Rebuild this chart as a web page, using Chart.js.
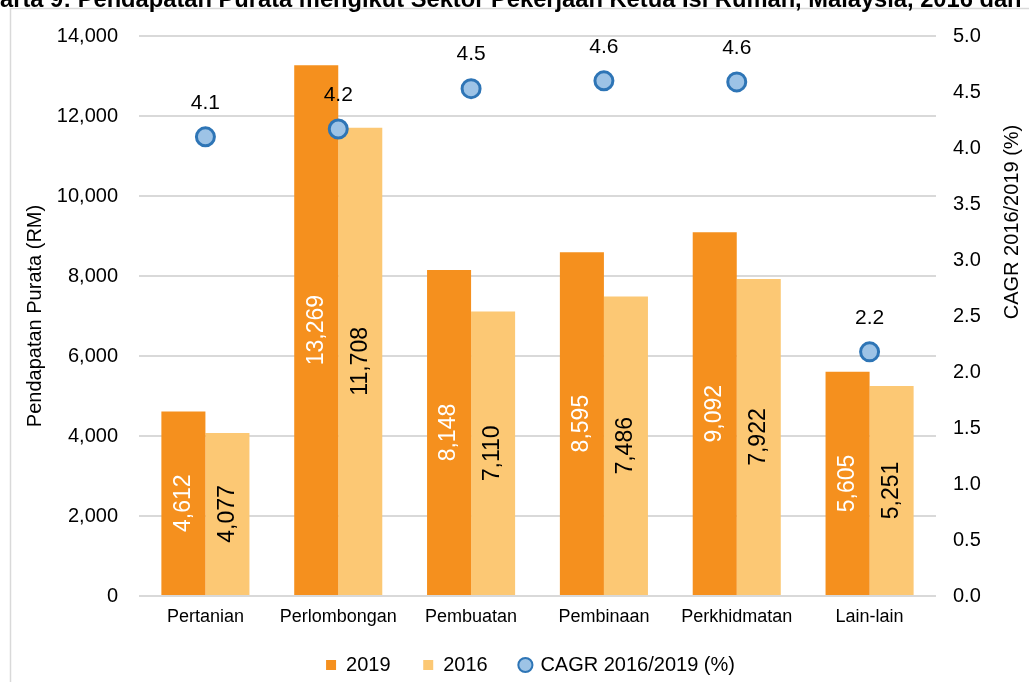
<!DOCTYPE html>
<html>
<head>
<meta charset="utf-8">
<script src="https://cdn.jsdelivr.net/npm/chart.js@4.4.0/dist/chart.umd.min.js"></script>
<style>
  html, body { margin: 0; padding: 0; background: #fff; overflow: hidden; }
  #wrap { width: 1029px; height: 682px; overflow: hidden; position: relative; }
  canvas { position: absolute; left: 0; top: 0; }
</style>
</head>
<body>
<div id="wrap"><canvas id="carta" width="1061" height="682"></canvas></div>
<script>
// data
const sektor = ['Pertanian', 'Perlombongan', 'Pembuatan', 'Pembinaan', 'Perkhidmatan', 'Lain-lain'];
const purata2019 = [4612, 13269, 8148, 8595, 9092, 5605];
const purata2016 = [4077, 11708, 7110, 7486, 7922, 5251];
const cagr = [4.1, 4.17, 4.53, 4.6, 4.59, 2.18];
const namaSiri = ['2019', '2016', 'CAGR 2016/2019 (%)'];
const tajuk = 'Carta 9: Pendapatan Purata mengikut Sektor Pekerjaan Ketua Isi Rumah, Malaysia, 2016 dan 2019';
const tajukKiri = 'Pendapatan Purata (RM)';
const tajukKanan = 'CAGR 2016/2019 (%)';

const FONT = '"Liberation Sans", Arial, sans-serif';
Chart.defaults.font.family = FONT;
Chart.defaults.color = '#000';

// frame, clipped title, right axis title and value labels
const hiasan = {
  id: 'hiasan',
  beforeDraw(chart) {
    const ctx = chart.ctx;
    ctx.save();
    ctx.strokeStyle = '#d9d9d9';
    ctx.lineWidth = 1.5;
    ctx.strokeRect(10.5, 8.5, 3000, 3000);
    ctx.font = 'bold 23.7px ' + FONT;
    ctx.fillStyle = '#000';
    ctx.textBaseline = 'alphabetic';
    ctx.fillText(tajuk, -ctx.measureText('C').width, 7);
    ctx.restore();
  },
  afterDatasetsDraw(chart) {
    const ctx = chart.ctx;
    ctx.save();
    ctx.textAlign = 'center';
    ctx.textBaseline = 'middle';
    // bar values, rotated
    [0, 1].forEach(di => {
      chart.getDatasetMeta(di).data.forEach((bar, i) => {
        const v = chart.data.datasets[di].data[i];
        ctx.save();
        ctx.translate(bar.x, (bar.y + bar.base) / 2);
        ctx.rotate(-Math.PI / 2);
        ctx.font = '23px ' + FONT;
        ctx.fillStyle = di === 0 ? '#fff' : '#000';
        ctx.fillText(v.toLocaleString('en-US'), 0, 0);
        ctx.restore();
      });
    });
    // CAGR values above points
    ctx.font = '21px ' + FONT;
    ctx.fillStyle = '#000';
    chart.getDatasetMeta(2).data.forEach((pt, i) => {
      ctx.fillText(cagr[i].toFixed(1), pt.x, pt.y - 34);
    });
    ctx.restore();
  },
  afterDraw(chart) {
    const ctx = chart.ctx;
    ctx.save();
    ctx.translate(1012, 222);
    ctx.rotate(-Math.PI / 2);
    ctx.font = '20px ' + FONT;
    ctx.fillStyle = '#000';
    ctx.textAlign = 'center';
    ctx.textBaseline = 'middle';
    ctx.fillText(tajukKanan, 0, 0);
    ctx.restore();
  }
};

new Chart(document.getElementById('carta'), {
  type: 'bar',
  data: {
    labels: sektor,
    datasets: [
      {
        label: namaSiri[0] + '   ',
        data: purata2019,
        backgroundColor: '#F5901E',
        borderWidth: 0,
        yAxisID: 'y',
        order: 1
      },
      {
        label: namaSiri[1] + '   ',
        data: purata2016,
        backgroundColor: '#FCC874',
        borderWidth: 0,
        yAxisID: 'y',
        order: 1
      },
      {
        type: 'line',
        label: namaSiri[2],
        data: cagr,
        showLine: false,
        pointRadius: 9,
        pointHoverRadius: 9,
        pointBorderWidth: 3,
        pointBackgroundColor: '#9DC3E6',
        pointBorderColor: '#2E75B6',
        backgroundColor: '#9DC3E6',
        borderColor: '#2E75B6',
        yAxisID: 'y1',
        order: 0
      }
    ]
  },
  options: {
    responsive: false,
    animation: false,
    layout: { padding: { top: 36, left: 0, right: 0, bottom: -3 } },
    datasets: {
      bar: { barPercentage: 1, categoryPercentage: 0.663 }
    },
    scales: {
      x: {
        grid: { display: false, drawTicks: false },
        border: { display: false },
        ticks: { font: { size: 18 }, color: '#000', padding: 10, maxRotation: 0, minRotation: 0 },
        afterFit(s) { s.height = 43; }
      },
      y: {
        position: 'left',
        min: 0,
        max: 14000,
        ticks: {
          stepSize: 2000,
          font: { size: 20 },
          color: '#000',
          padding: 21,
          callback: v => v.toLocaleString('en-US')
        },
        grid: { color: '#d9d9d9', lineWidth: 2, drawTicks: false },
        border: { display: false },
        title: {
          display: true,
          text: tajukKiri,
          font: { size: 20 },
          color: '#000',
          padding: { top: 23, bottom: 0 }
        },
        afterFit(s) { s.width = 139; }
      },
      y1: {
        position: 'right',
        min: 0,
        max: 5,
        ticks: {
          stepSize: 0.5,
          font: { size: 20 },
          color: '#000',
          padding: 17,
          callback: v => v.toFixed(1)
        },
        grid: { display: false, drawTicks: false },
        border: { display: false },
        afterFit(s) { s.width = 1061 - 936; }
      }
    },
    plugins: {
      legend: {
        position: 'bottom',
        labels: {
          usePointStyle: true,
          boxWidth: 10,
          boxHeight: 10,
          padding: 16,
          font: { size: 20 },
          color: '#000',
          sort: (a, b) => a.datasetIndex - b.datasetIndex,
          generateLabels(chart) {
            const items = Chart.defaults.plugins.legend.labels.generateLabels(chart);
            items.forEach(it => {
              if (it.datasetIndex < 2) { it.pointStyle = 'rect'; it.lineWidth = 0; }
              else { it.pointStyle = 'circle'; it.lineWidth = 2; }
            });
            return items;
          }
        }
      },
      tooltip: { enabled: false }
    }
  },
  plugins: [hiasan]
});
</script>
</body>
</html>
